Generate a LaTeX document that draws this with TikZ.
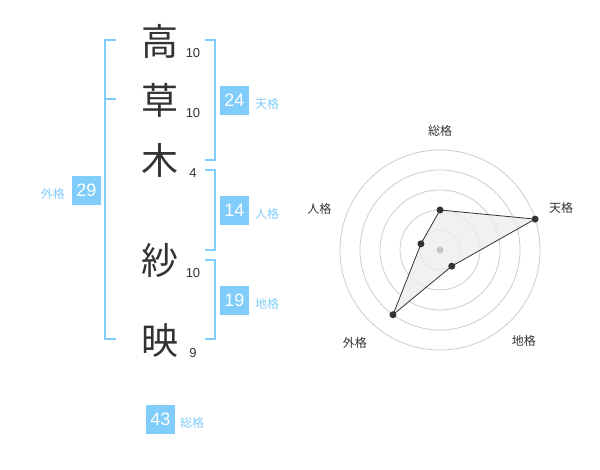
\documentclass[tikz,border=0pt]{standalone}
\usepackage{fontspec}
\setmainfont{Liberation Sans}
\newfontfamily\jpfont{Noto Sans CJK JP}
\usetikzlibrary{positioning}

\definecolor{kakublue}{RGB}{128,204,250}
\definecolor{inkgray}{RGB}{51,51,51}

\tikzset{
    kanji/.style={font=\jpfont\fontsize{37}{37}\selectfont, text=inkgray, inner sep=0},
    strokes/.style={font=\fontsize{13}{13}\selectfont, text=inkgray, inner sep=0},
    score/.style={fill=kakublue, text=white, minimum size=28.5pt, inner sep=0, font=\fontsize{18}{18}\selectfont},
    kakuname/.style={font=\jpfont\fontsize{12}{12}\selectfont, text=kakublue, inner sep=0},
    bracket/.style={draw=kakublue, line width=2pt},
    axisname/.style={font=\jpfont\fontsize{12}{12}\selectfont, text=inkgray, inner sep=0},
    dot/.style={circle, fill=inkgray, inner sep=0, minimum size=7pt},
}

\begin{document}
\begin{tikzpicture}[x=1pt, y=-1pt]

        \useasboundingbox (0,0) rectangle (600,470);

        % name
        \node[kanji] (c1) at (160,41) {高};
        \node[kanji] (c2) at (160,100) {草};
        \node[kanji] (c3) at (160,160) {木};
        \node[kanji] (c4) at (160,260) {紗};
        \node[kanji] (c5) at (160,341) {映};

        \node[strokes] (n1) at (193,53) {10};
        \node[strokes] (n2) at (193,113) {10};
        \node[strokes] (n3) at (193,173) {4};
        \node[strokes] (n4) at (193,273) {10};
        \node[strokes] (n5) at (193,353) {9};

        % brackets
        \draw[bracket] (116,40) -- (105,40) -- (105,339) -- (116,339);
        \draw[bracket] (105,99) -- (116,99);
        \draw[bracket] (205,40) -- (215,40) -- (215,160) -- (205,160);
        \draw[bracket] (205,170) -- (215,170) -- (215,250) -- (205,250);
        \draw[bracket] (205,260) -- (215,260) -- (215,339) -- (205,339);

        % scores
        \node[score] (gai) at (86.5,190.5) {29};
        \node[kakuname, left=7pt of gai, yshift=-3pt] (gailabel) {外格};
        \node[score] (ten) at (234.5,100.5) {24};
        \node[kakuname, right=6pt of ten, yshift=-3pt] (tenlabel) {天格};
        \node[score] (jin) at (234.5,210.5) {14};
        \node[kakuname, right=6pt of jin, yshift=-3pt] (jinlabel) {人格};
        \node[score] (chi) at (234.5,300.5) {19};
        \node[kakuname, right=6pt of chi, yshift=-3pt] (chilabel) {地格};
        \node[score] (sou) at (160.5,419.5) {43};
        \node[kakuname, right=5pt of sou, yshift=-3pt] (soulabel) {総格};

        % radar
        \begin{scope}[shift={(440,250)}, yscale=-1]
            \foreach \r in {20,40,60,80,100}
                \draw[black!20, line width=0.8pt] (0,0) circle (\r);

            \coordinate (psou) at (90:40);
            \coordinate (pten) at (18:100);
            \coordinate (pchi) at (-54:20);
            \coordinate (pgai) at (-126:80);
            \coordinate (pjin) at (162:20);

            \draw[fill=black!7, fill opacity=0.8, draw=inkgray, line width=0.8pt]
                (psou) -- (pten) -- (pchi) -- (pgai) -- (pjin) -- cycle;
            \fill[black!22] (0,0) circle (3.5);

            \foreach \p in {psou,pten,pchi,pgai,pjin}
                \node[dot] at (\p) {};

            \node[axisname] (asou) at (90:119) {総格};
            \node[axisname] (aten) at (19:128) {天格};
            \node[axisname] (achi) at (-47.5:124) {地格};
            \node[axisname] (agai) at (-132.5:126) {外格};
            \node[axisname] (ajin) at (161:127.5) {人格};
        \end{scope}

\end{tikzpicture}
\end{document}
